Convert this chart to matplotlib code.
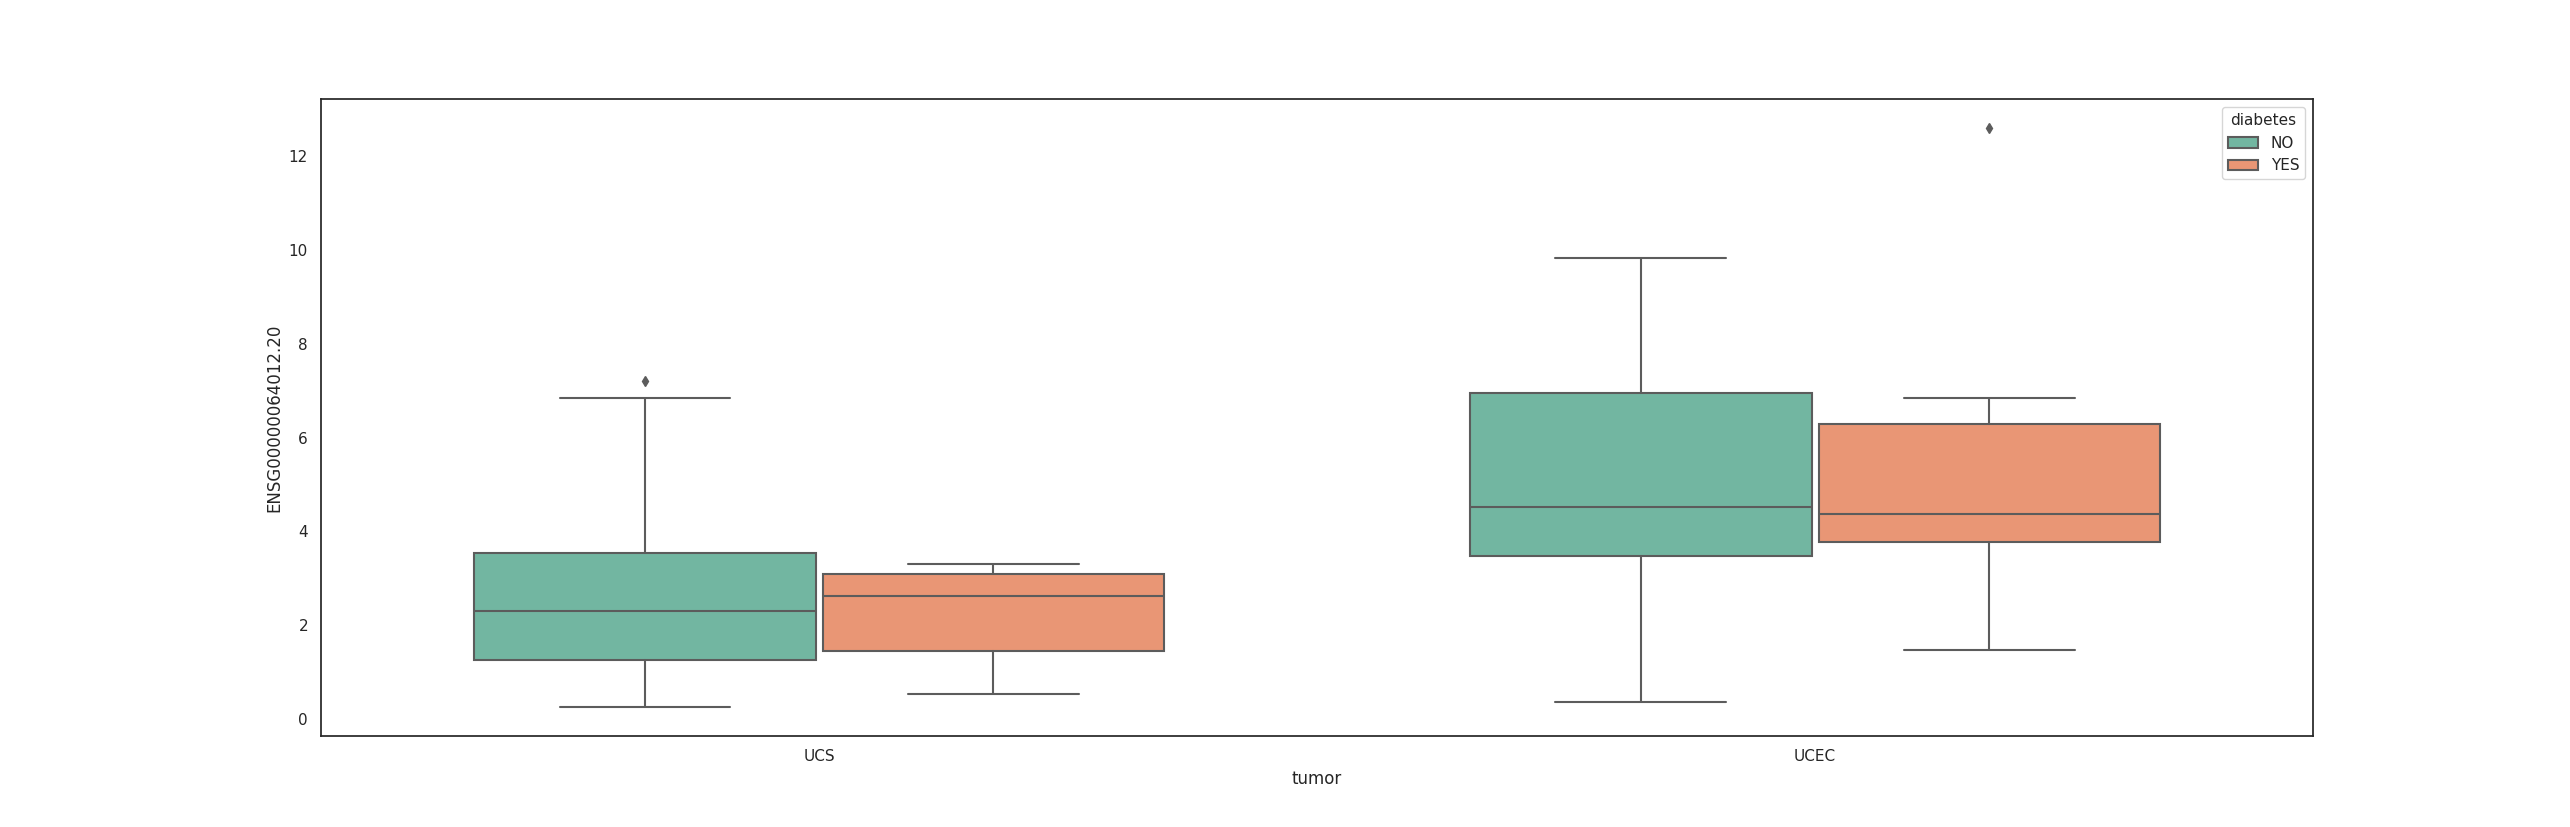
import matplotlib
matplotlib.use("Agg")
import matplotlib.pyplot as plt
import matplotlib.patches as mpatches
import seaborn as sns

sns.set_theme(style="white")

# categories and hue levels
tumors = ["UCS", "UCEC"]
diabetes_levels = ["NO", "YES"]

# box statistics: [UCS, UCEC]
no_whislo = [0.25, 0.35]
no_q1 = [1.26, 3.47]
no_med = [2.31, 4.51]
no_q3 = [3.54, 6.95]
no_whishi = [6.85, 9.83]
no_fliers = [[7.2], []]

yes_whislo = [0.53, 1.46]
yes_q1 = [1.44, 3.77]
yes_med = [2.61, 4.36]
yes_q3 = [3.085, 6.29]
yes_whishi = [3.30, 6.84]
yes_fliers = [[], [12.6]]

colors = sns.color_palette("Set2", 2, desat=0.75)
line_gray = (0.36, 0.36, 0.36)


def make_stats(lo, q1, med, q3, hi, fl):
    return [dict(whislo=a, q1=b, med=c, q3=d, whishi=e, fliers=f)
            for a, b, c, d, e, f in zip(lo, q1, med, q3, hi, fl)]


stats = {
    "NO": make_stats(no_whislo, no_q1, no_med, no_q3, no_whishi, no_fliers),
    "YES": make_stats(yes_whislo, yes_q1, yes_med, yes_q3, yes_whishi, yes_fliers),
}

fig, ax = plt.subplots(figsize=(25.7, 8.27), dpi=100)

# seaborn-like dodge: total width 0.7 split over the hue levels
n = len(diabetes_levels)
each_width = 0.7 / n
offsets = [-0.35 / 2 + j * each_width for j in range(n)]
for j, level in enumerate(diabetes_levels):
    pos = [i + offsets[j] for i in range(len(tumors))]
    ax.bxp(stats[level], positions=pos, widths=each_width * 0.98,
           patch_artist=True, manage_ticks=False,
           boxprops=dict(facecolor=colors[j], edgecolor=line_gray, linewidth=1.5),
           medianprops=dict(color=line_gray, linewidth=1.5),
           whiskerprops=dict(color=line_gray, linewidth=1.5),
           capprops=dict(color=line_gray, linewidth=1.5),
           flierprops=dict(marker="d", markersize=5, markerfacecolor=line_gray,
                           markeredgecolor=line_gray))

ax.set_xticks(range(len(tumors)))
ax.set_xticklabels(tumors)
ax.set_xlim(-0.5, len(tumors) - 0.5)

all_lo = min(no_whislo + yes_whislo)
all_hi = max(max(no_whishi + yes_whishi), 7.2, 12.6)
pad = 0.05 * (all_hi - all_lo)
ax.set_ylim(all_lo - pad, all_hi + pad)

ax.set_xlabel("tumor")
ax.set_ylabel("ENSG00000064012.20")

handles = [mpatches.Patch(facecolor=colors[j], edgecolor=line_gray, linewidth=1.5, label=lv)
           for j, lv in enumerate(diabetes_levels)]
ax.legend(handles=handles, title="diabetes", loc="upper right", title_fontsize=11)

plt.savefig("out.png")
